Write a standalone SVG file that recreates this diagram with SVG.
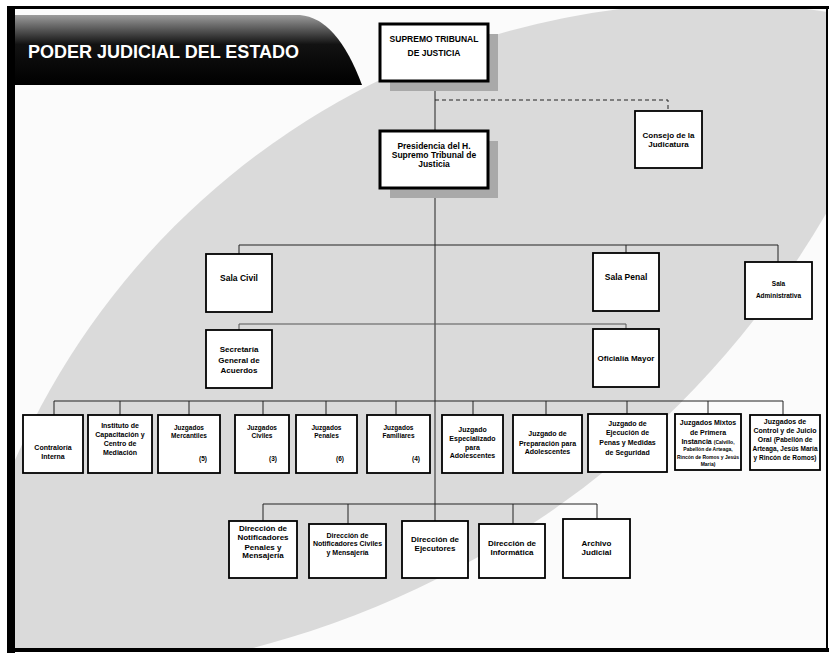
<svg xmlns="http://www.w3.org/2000/svg" width="830" height="656" viewBox="0 0 830 656">
<defs>
<style>
.box{fill:#fff;stroke:#000;stroke-width:1.8}
.thick{stroke-width:3}
.sh{fill:#a9a9a9}
.t{font-family:"Liberation Sans",Arial,sans-serif;font-weight:bold;text-anchor:middle;fill:#000}
.f85{font-size:8.5px}
.f8{font-size:8px}
.f7{font-size:7px}
.f65{font-size:6.5px}
.f5{font-size:5px}
.conn{stroke:#222;stroke-width:1;fill:none}
.dash{stroke-dasharray:4 3}
.dot{stroke:#555}
</style>
<linearGradient id="bannerGrad" x1="0" y1="0" x2="0" y2="1">
<stop offset="0" stop-color="#9c9c9c"/>
<stop offset="0.15" stop-color="#6a6a6a"/>
<stop offset="0.42" stop-color="#121212"/>
<stop offset="1" stop-color="#000"/>
</linearGradient>
<clipPath id="frameClip"><rect x="15" y="9" width="811" height="639"/></clipPath>
<clipPath id="lensClip"><circle cx="18.7" cy="-256.4" r="934.2"/></clipPath>
</defs>
<rect x="0" y="0" width="830" height="656" fill="#fff"/>
<g id="background" clip-path="url(#frameClip)">
<rect x="15" y="9" width="811" height="639" fill="#fbfbfb"/>
<g clip-path="url(#lensClip)">
<circle cx="712.8" cy="764.8" r="761.5" fill="#dadada"/>
</g>
</g>
<g id="frame" fill="#000">
<rect x="7" y="6" width="822" height="3"/>
<rect x="7" y="6" width="8" height="647"/>
<rect x="7" y="648" width="822" height="4"/>
<rect x="826" y="6" width="2" height="646"/>
</g>
<g id="banner">
<path d="M15,15 H300 Q337,18 362,85 H15 Z" fill="url(#bannerGrad)"/>
<text x="28" y="58" font-family="Liberation Sans,Arial,sans-serif" font-weight="bold" font-size="18" fill="#fff">PODER JUDICIAL DEL ESTADO</text>
</g>
<g id="connectors">
<path class="conn" d="M435,81 V131 M435,188 V521"/>
<path class="conn dash" d="M435,100 H668 V111"/>
<path class="conn" d="M239,245 H778 M239,245 V254 M626,245 V253 M778,245 V262"/>
<path class="conn dot" d="M239,324 H626 M239,324 V330 M626,324 V329"/>
<path class="conn" d="M54,401 H783 M54,401 V415 M120,401 V415 M189,401 V415 M263,401 V415 M326,401 V415 M396,401 V415 M473,401 V415 M546,401 V415 M627,401 V414 M708,401 V414 M783,401 V415"/>
<path class="conn" d="M263,504 H597 M263,504 V521 M348,504 V524 M513,504 V524 M597,504 V519"/>
</g>
<g id="supremo">
<rect class="sh" x="390" y="34" width="108" height="57"/>
<rect class="box thick" x="380" y="24" width="108" height="57"/>
<text class="t f85" x="434" y="42">SUPREMO TRIBUNAL</text>
<text class="t f85" x="434" y="56">DE JUSTICIA</text>
</g>
<g id="presidencia">
<rect class="sh" x="390" y="141" width="108" height="57"/>
<rect class="box thick" x="380" y="131" width="108" height="57"/>
<text class="t f85" x="434" y="149">Presidencia del H.</text>
<text class="t f85" x="434" y="158">Supremo Tribunal de</text>
<text class="t f85" x="434" y="167">Justicia</text>
</g>
<g id="consejo">
<rect class="box" x="635" y="111" width="67" height="57"/>
<text class="t f8" x="668.5" y="138">Consejo de la</text>
<text class="t f8" x="668.5" y="147">Judicatura</text>
</g>
<g id="sala-civil">
<rect class="box" x="206" y="254" width="66" height="58"/>
<text class="t f85" x="239" y="281">Sala Civil</text>
</g>
<g id="sala-penal">
<rect class="box" x="593" y="253" width="66" height="58"/>
<text class="t f85" x="626" y="280">Sala Penal</text>
</g>
<g id="sala-administrativa">
<rect class="box" x="745" y="262" width="67" height="57"/>
<text class="t f65" x="778.5" y="286">Sala</text>
<text class="t f65" x="778.5" y="298">Administrativa</text>
</g>
<g id="secretaria">
<rect class="box" x="206" y="330" width="66" height="58"/>
<text class="t f8" x="239" y="352">Secretaría</text>
<text class="t f8" x="239" y="362.5">General de</text>
<text class="t f8" x="239" y="373">Acuerdos</text>
</g>
<g id="oficialia">
<rect class="box" x="593" y="329" width="66" height="58"/>
<text class="t f8" x="626" y="361">Oficialía Mayor</text>
</g>
<g id="contraloria">
<rect class="box" x="23" y="415" width="60" height="58"/>
<text class="t f7" x="53" y="450">Contraloría</text>
<text class="t f7" x="53" y="459">Interna</text>
</g>
<g id="instituto">
<rect class="box" x="88" y="415" width="64" height="58"/>
<text class="t f7" x="120" y="428">Instituto de</text>
<text class="t f7" x="120" y="437">Capacitación y</text>
<text class="t f7" x="120" y="446">Centro de</text>
<text class="t f7" x="120" y="455">Mediación</text>
</g>
<g id="mercantiles">
<rect class="box" x="158" y="415" width="62" height="58"/>
<text class="t f65" x="189" y="430">Juzgados</text>
<text class="t f65" x="189" y="438">Mercantiles</text>
<text class="t f65" x="203" y="461">(5)</text>
</g>
<g id="civiles">
<rect class="box" x="235" y="415" width="54" height="58"/>
<text class="t f65" x="262" y="430">Juzgados</text>
<text class="t f65" x="262" y="438">Civiles</text>
<text class="t f65" x="273" y="461">(3)</text>
</g>
<g id="penales">
<rect class="box" x="296" y="415" width="61" height="58"/>
<text class="t f65" x="326.5" y="430">Juzgados</text>
<text class="t f65" x="326.5" y="438">Penales</text>
<text class="t f65" x="340" y="461">(6)</text>
</g>
<g id="familiares">
<rect class="box" x="367" y="415" width="63" height="58"/>
<text class="t f65" x="398.5" y="430">Juzgados</text>
<text class="t f65" x="398.5" y="438">Familiares</text>
<text class="t f65" x="416" y="461">(4)</text>
</g>
<g id="especializado">
<rect class="box" x="442" y="415" width="61" height="58"/>
<text class="t f7" x="472.5" y="431.5">Juzgado</text>
<text class="t f7" x="472.5" y="440.5">Especializado</text>
<text class="t f7" x="472.5" y="449.5">para</text>
<text class="t f7" x="472.5" y="457.5">Adolescentes</text>
</g>
<g id="preparacion">
<rect class="box" x="513" y="415" width="69" height="58"/>
<text class="t f7" x="547.5" y="435.5">Juzgado de</text>
<text class="t f7" x="547.5" y="445.5">Preparación para</text>
<text class="t f7" x="547.5" y="453.5">Adolescentes</text>
</g>
<g id="ejecucion">
<rect class="box" x="588" y="414" width="79" height="58"/>
<text class="t f7" x="627.5" y="425.5">Juzgado de</text>
<text class="t f7" x="627.5" y="434.5">Ejecución de</text>
<text class="t f7" x="627.5" y="444.5">Penas y Medidas</text>
<text class="t f7" x="627.5" y="454.5">de Seguridad</text>
</g>
<g id="mixtos">
<rect class="box" x="675" y="414" width="66" height="56"/>
<text class="t f7" x="708" y="424.5">Juzgados Mixtos</text>
<text class="t f7" x="708" y="434.5">de Primera</text>
<text class="t f7" x="708" y="443.5">Instancia <tspan class="f5">(Calvillo,</tspan></text>
<text class="t f5" x="708" y="451">Pabellón de Arteaga,</text>
<text class="t f5" x="708" y="459">Rincón de Romos y Jesús</text>
<text class="t f5" x="708" y="466">María)</text>
</g>
<g id="control">
<rect class="box" x="750" y="415" width="70" height="55"/>
<text class="t f7" x="785" y="423.5">Juzgados de</text>
<text class="t f7" x="785" y="432.5">Control y de Juicio</text>
<text class="t f7" x="785" y="441.5">Oral <tspan class="f65">(Pabellón de</tspan></text>
<text class="t f65" x="785" y="450.5">Arteaga, Jesús María</text>
<text class="t f65" x="785" y="459.5">y Rincón de Romos)</text>
</g>
<g id="notif-penales">
<rect class="box" x="229" y="521" width="68" height="57"/>
<text class="t f8" x="263" y="531">Dirección de</text>
<text class="t f8" x="263" y="540">Notificadores</text>
<text class="t f8" x="263" y="550">Penales y</text>
<text class="t f8" x="263" y="558">Mensajería</text>
</g>
<g id="notif-civiles">
<rect class="box" x="309" y="524" width="77" height="54"/>
<text class="t f7" x="347.5" y="537.5">Dirección de</text>
<text class="t f7" x="347.5" y="545.5">Notificadores Civiles</text>
<text class="t f7" x="347.5" y="554.5">y Mensajería</text>
</g>
<g id="ejecutores">
<rect class="box" x="402" y="521" width="66" height="57"/>
<text class="t f8" x="435" y="542">Dirección de</text>
<text class="t f8" x="435" y="551">Ejecutores</text>
</g>
<g id="informatica">
<rect class="box" x="479" y="524" width="66" height="54"/>
<text class="t f8" x="512" y="546">Dirección de</text>
<text class="t f8" x="512" y="555">Informática</text>
</g>
<g id="archivo">
<rect class="box" x="563" y="519" width="67" height="59"/>
<text class="t f8" x="596.5" y="546">Archivo</text>
<text class="t f8" x="596.5" y="555">Judicial</text>
</g>
</svg>
